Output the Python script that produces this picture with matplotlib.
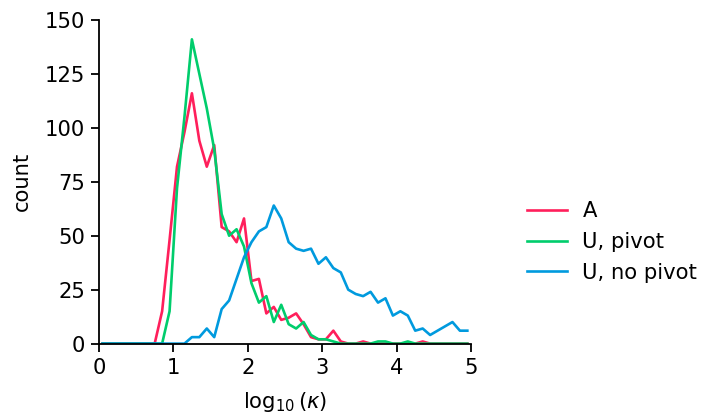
import numpy as np
import matplotlib
matplotlib.use("Agg")
import matplotlib.pyplot as plt

# bin centres of log10(kappa), width 0.1 over [0, 5]
bin_centers = np.arange(50) * 0.1 + 0.05

counts_A = [
    0, 0, 0, 0, 0, 0, 0, 0, 15, 48,
    82, 98, 116, 94, 82, 92, 54, 52, 47, 58,
    29, 30, 14, 17, 11, 12, 14, 9, 3, 2,
    2, 6, 1, 0, 0, 1, 0, 0, 0, 0,
    0, 0, 0, 1, 0, 0, 0, 0, 0, 0,
]
counts_U_pivot = [
    0, 0, 0, 0, 0, 0, 0, 0, 0, 15,
    72, 105, 141, 125, 109, 90, 60, 50, 53, 45,
    28, 19, 22, 10, 18, 9, 7, 10, 4, 2,
    2, 1, 0, 0, 0, 0, 0, 1, 1, 0,
    0, 1, 0, 0, 0, 0, 0, 0, 0, 0,
]
counts_U_nopivot = [
    0, 0, 0, 0, 0, 0, 0, 0, 0, 0,
    0, 0, 3, 3, 7, 3, 16, 20, 30, 40,
    47, 52, 54, 64, 58, 47, 44, 43, 44, 37,
    40, 35, 33, 25, 23, 22, 24, 19, 21, 13,
    15, 13, 6, 7, 4, 6, 8, 10, 6, 6,
]

series = [
    ("A", counts_A, "#FF1F5B"),
    ("U, pivot", counts_U_pivot, "#00CD6C"),
    ("U, no pivot", counts_U_nopivot, "#009ADE"),
]

plt.rcParams["font.family"] = ["DejaVu Sans"]
plt.rcParams["mathtext.fontset"] = "dejavusans"
fs = 15.2

fig = plt.figure(figsize=(7.01, 4.15), dpi=100)
ax = fig.add_axes([0.141, 0.172, 0.531, 0.780])

for label, vals, color in series:
    ax.plot(bin_centers, vals, color=color, lw=1.9, label=label)

ax.set_xlim(0, 5)
ax.set_ylim(0, 150)
ax.set_xticks(range(0, 6))
ax.set_yticks(range(0, 151, 25))
ax.set_xlabel(r"$\log_{10}(\kappa)$", fontsize=fs, labelpad=9)
ax.set_ylabel("count", fontsize=fs, labelpad=9)
ax.tick_params(labelsize=fs, length=6, width=1.3, pad=4)
for side in ("top", "right"):
    ax.spines[side].set_visible(False)
for side in ("left", "bottom"):
    ax.spines[side].set_linewidth(1.3)

fig.legend(loc="center left", bbox_to_anchor=(0.724, 0.417),
           frameon=False, fontsize=fs, labelspacing=0.5,
           handlelength=1.9, handletextpad=0.75)

fig.savefig("out.png", dpi=100)
